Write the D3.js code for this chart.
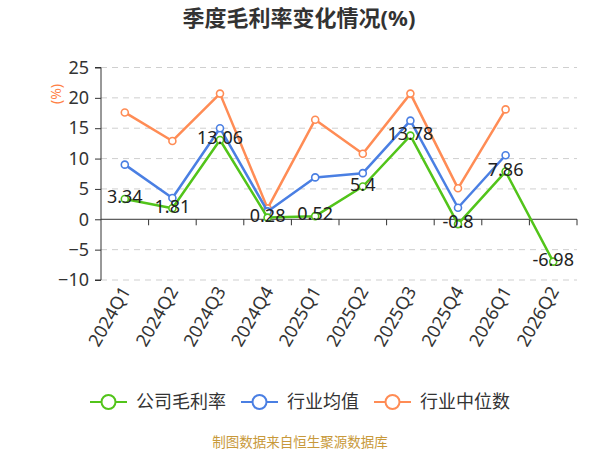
<!DOCTYPE html>
<html>
<head>
<meta charset="utf-8">
<script src="https://cdn.jsdelivr.net/npm/d3@7"></script>
<style>
  body { margin: 0; background: #fff; }
  text { font-family: "Noto Sans", "Noto Sans CJK SC", sans-serif; }
</style>
</head>
<body>
<div id="chart"></div>
<script>
// Data
const quarters = ["2024Q1", "2024Q2", "2024Q3", "2024Q4", "2025Q1", "2025Q2", "2025Q3", "2025Q4", "2026Q1", "2026Q2"];
const companyMargin = [3.34, 1.81, 13.06, 0.28, 0.52, 5.4, 13.78, -0.8, 7.86, -6.98];
const industryMean = [9.0, 3.5, 15.0, 1.3, 6.9, 7.6, 16.25, 1.9, 10.55, null];
const industryMedian = [17.6, 12.9, 20.7, 1.8, 16.4, 10.8, 20.7, 5.1, 18.1, null];
const yTicks = [-10, -5, 0, 5, 10, 15, 20, 25];
const seriesNames = ["公司毛利率", "行业均值", "行业中位数"];

const colors = ["#52c41a", "#4a7fe3", "#ff8c55"];

/*  Constants  */
const width = 600;
const height = 450;
const plotLeft = 101, plotRight = 577, plotTop = 67.5, plotBottom = 280;

const svg = d3.select("#chart")
  .append("svg")
    .attr("width", width)
    .attr("height", height);

/*  Scales  */
const xScale = d3.scaleBand()
  .domain(quarters)
  .range([plotLeft, plotRight]);

const yScale = d3.scaleLinear()
  .domain([-10, 25])
  .range([plotBottom, plotTop]);

/*  Grid  */
svg.append("g")
  .selectAll("line")
  .data(yTicks.filter(t => t !== 0))
  .join("line")
    .attr("x1", plotLeft)
    .attr("x2", plotRight)
    .attr("y1", d => yScale(d))
    .attr("y2", d => yScale(d))
    .attr("stroke", "#cfcfcf")
    .attr("stroke-dasharray", "6,5");

/*  Axes  */
const leftAxis = d3.axisLeft(yScale)
  .tickValues(yTicks)
  .tickSize(6)
  .tickPadding(6);
const yAxisG = svg.append("g")
  .attr("transform", `translate(${plotLeft}, 0)`)
  .call(leftAxis);
yAxisG.select(".domain").attr("stroke", "#333").attr("d", `M-6,${plotTop}H0V${plotBottom}H-6`);
yAxisG.selectAll(".tick line").attr("stroke", "#333");
yAxisG.selectAll(".tick text")
  .attr("fill", "#333")
  .style("font-size", "18px");

// Zero line with ticks at category boundaries
const bottomAxis = d3.axisBottom(xScale).tickSize(0).tickFormat("");
const xAxisG = svg.append("g")
  .attr("transform", `translate(0, ${yScale(0)})`)
  .call(bottomAxis);
xAxisG.select(".domain").attr("stroke", "#333").attr("d", `M${plotLeft},0H${plotRight}`);
xAxisG.selectAll(".tick").remove();
xAxisG.selectAll(".bnd")
  .data(quarters.map(q => xScale(q) + xScale.bandwidth()))
  .join("line")
    .attr("x1", d => d)
    .attr("x2", d => d)
    .attr("y1", 0)
    .attr("y2", 6)
    .attr("stroke", "#333");

// Category labels at the bottom
svg.append("g")
  .selectAll("text")
  .data(quarters)
  .join("text")
    .attr("transform", d => `translate(${xScale(d) + xScale.bandwidth() / 2 + 1}, ${plotBottom + 8}) rotate(-60)`)
    .attr("text-anchor", "end")
    .attr("dy", "0.35em")
    .attr("fill", "#333")
    .style("font-size", "18px")
    .text(d => d);

// Unit label
svg.append("text")
  .attr("transform", `translate(56, 94) rotate(-90)`)
  .attr("text-anchor", "middle")
  .attr("dy", "0.35em")
  .attr("fill", "#ff7f45")
  .style("font-size", "14px")
  .text("(%)");

/*  Title  */
svg.append("text")
  .attr("x", 299)
  .attr("y", 18)
  .attr("text-anchor", "middle")
  .attr("dy", "0.35em")
  .attr("fill", "#333")
  .style("font-size", "22px")
  .style("font-weight", "bold")
  .text("季度毛利率变化情况(%)");

/*  Lines  */
const allSeries = [companyMargin, industryMean, industryMedian];
const xPos = i => xScale(quarters[i]) + xScale.bandwidth() / 2;
const lineGen = d3.line()
  .defined(d => d !== null)
  .x((d, i) => xPos(i))
  .y(d => yScale(d));

[2, 1, 0].forEach(s => {
  const g = svg.append("g");
  g.append("path")
    .datum(allSeries[s])
    .attr("d", lineGen)
    .attr("fill", "none")
    .attr("stroke", colors[s])
    .attr("stroke-width", 2.5)
    .attr("stroke-linejoin", "round");
  g.selectAll("circle")
    .data(allSeries[s].map((v, i) => ({v, i})).filter(d => d.v !== null))
    .join("circle")
      .attr("cx", d => xPos(d.i))
      .attr("cy", d => yScale(d.v))
      .attr("r", 3.5)
      .attr("fill", "#fff")
      .attr("stroke", colors[s])
      .attr("stroke-width", 1.6);
});

// Data labels for company series
svg.append("g")
  .selectAll("text")
  .data(companyMargin)
  .join("text")
    .attr("x", (d, i) => xPos(i))
    .attr("y", d => yScale(d) - 2)
    .attr("text-anchor", "middle")
    .attr("dy", "0.35em")
    .attr("fill", "#222")
    .style("font-size", "18px")
    .text(d => d);

/*  Legend  */
const legend = svg.append("g");
let cursor = 0;
seriesNames.forEach((name, i) => {
  const item = legend.append("g");
  item.append("line")
    .attr("x1", 0).attr("x2", 37)
    .attr("y1", 0).attr("y2", 0)
    .attr("stroke", colors[i])
    .attr("stroke-width", 2);
  item.append("circle")
    .attr("cx", 18.5).attr("cy", 0).attr("r", 7)
    .attr("fill", "#fff")
    .attr("stroke", colors[i])
    .attr("stroke-width", 2);
  const t = item.append("text")
    .attr("x", 46)
    .attr("dy", "0.35em")
    .attr("fill", "#333")
    .style("font-size", "18px")
    .text(name);
  item.attr("transform", `translate(${cursor}, 0)`);
  cursor += 46 + t.node().getComputedTextLength() + 15;
});
const legendWidth = cursor - 15;
legend.attr("transform", `translate(${300 - legendWidth / 2}, 402)`);

/*  Source  */
svg.append("text")
  .attr("x", 300)
  .attr("y", 442)
  .attr("text-anchor", "middle")
  .attr("dy", "0.35em")
  .attr("fill", "#c8993a")
  .style("font-size", "13.5px")
  .text("制图数据来自恒生聚源数据库");
</script>
</body>
</html>
